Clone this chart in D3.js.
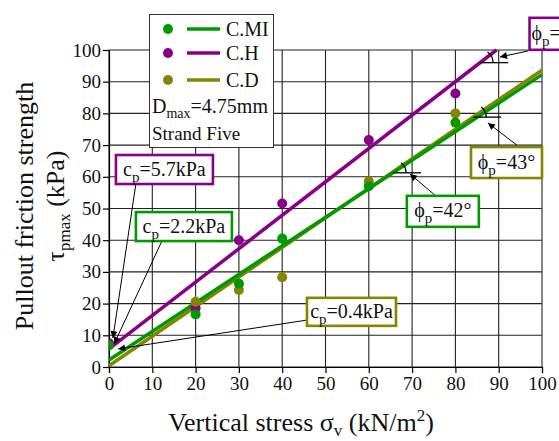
<!DOCTYPE html>
<html><head><meta charset="utf-8">
<script src="https://cdn.jsdelivr.net/npm/d3@7"></script>
</head><body style="margin:0;background:#fff"><svg id="c" width="559" height="441" style="display:block"></svg>
<script>
const xTicks = [0,10,20,30,40,50,60,70,80,90,100];
const yTicks = [0,10,20,30,40,50,60,70,80,90,100];
const seriesNames = ["C.MI","C.H","C.D"];
const seriesColors = ["#009a00","#880088","#858500"];
const stressMI = [0,20,30,40,60,80];
const tauMI = [6.8,16.6,26.3,40.5,57,77.1];
const stressH = [0,20,30,40,60,80];
const tauH = [7.5,18.5,40,51.6,71.6,86.3];
const stressD = [20,30,40,60,80];
const tauD = [20.6,24.3,28.3,58.6,80];
const cohesion = [2.2,5.7,0.4];
const phiDeg = [42,46.5,43];

const FONT = '"Liberation Serif", "Times New Roman", Times, serif';
const svg = d3.select("#c").style("font-family",FONT);
const x = d3.scaleLinear().domain([0,100]).range([109,542]);
const y = d3.scaleLinear().domain([0,100]).range([367,50]);

// grid
const g = svg.append("g");
g.selectAll(".vg").data(xTicks).join("line").attr("x1",d=>x(d)).attr("x2",d=>x(d)).attr("y1",y(0)).attr("y2",y(100)).attr("stroke","#222").attr("stroke-width",1.1);
g.selectAll(".hg").data(yTicks).join("line").attr("y1",d=>y(d)).attr("y2",d=>y(d)).attr("x1",x(0)).attr("x2",x(100)).attr("stroke","#222").attr("stroke-width",1.1);

// axes
const ax = svg.append("g").attr("transform",`translate(0,${y(0)})`).call(d3.axisBottom(x).tickValues(xTicks).tickSize(6).tickPadding(4));
const ay = svg.append("g").attr("transform",`translate(${x(0)},0)`).call(d3.axisLeft(y).tickValues(yTicks).tickSize(6).tickPadding(2));
[ax,ay].forEach(a=>{a.attr("font-family",null).style("font-family",FONT);a.select(".domain").attr("stroke","#000").attr("stroke-width",1.2);a.selectAll(".tick line").attr("stroke","#000").attr("stroke-width",1.2);a.selectAll(".tick text").style("font-family",FONT).style("font-size","19px").attr("fill","#111");});

// fit lines
const plot = svg.append("g");
svg.append("clipPath").attr("id","clip").append("rect").attr("x",x(0)).attr("y",y(100)).attr("width",x(100)-x(0)).attr("height",y(0)-y(100));
const fitLine = i => {
  const s = Math.tan(phiDeg[i]*Math.PI/180), c = cohesion[i];
  const xe = Math.min(100,(100-c)/s);
  return [[0,c],[xe,c+s*xe]];
};
const order = [2,0,1];
order.forEach(i=>{
  const pts = fitLine(i);
  plot.append("line").attr("x1",x(pts[0][0])).attr("y1",y(pts[0][1])).attr("x2",x(pts[1][0])).attr("y2",y(pts[1][1]))
    .attr("stroke",seriesColors[i]).attr("stroke-width",3.5);
});

// points
const pointSets = [[stressMI,tauMI],[stressH,tauH],[stressD,tauD]];
const ptG = svg.append("g").attr("clip-path","url(#clip)");
[1,2,0].forEach(i=>{
  const [xs,ys] = pointSets[i];
  ptG.selectAll(null).data(xs.map((v,k)=>[v,ys[k]])).join("circle")
    .attr("cx",d=>x(d[0])).attr("cy",d=>y(d[1])).attr("r",5).attr("fill",seriesColors[i]);
});

// angle markers
const markerX = [65.6,85.7,84.1];
const mk = svg.append("g");
[0,1,2].forEach(i=>{
  const s = Math.tan(phiDeg[i]*Math.PI/180), c = cohesion[i];
  const bx = x(markerX[i]), by = y(c+s*markerX[i]);
  mk.append("line").attr("x1",bx).attr("x2",bx+28).attr("y1",by).attr("y2",by).attr("stroke","#000").attr("stroke-width",1.3);
  const ang = Math.atan(s*(x(1)-x(0))/(y(0)-y(1)));
  const r = 13;
  mk.append("path").attr("d",`M${bx+r},${by} A${r},${r} 0 0 0 ${bx+r*Math.cos(ang)},${by-r*Math.sin(ang)}`).attr("fill","none").attr("stroke","#000").attr("stroke-width",1.3);
});

// annotations
svg.append("defs").append("marker").attr("id","ah").attr("viewBox","0 0 10 10").attr("refX",10).attr("refY",5)
  .attr("markerWidth",9).attr("markerHeight",7).attr("markerUnits","userSpaceOnUse").attr("orient","auto")
  .append("path").attr("d","M0,0 L10,5 L0,10 z").attr("fill","#000");
const annMain = ["c","c","c","ϕ","ϕ","ϕ"];
const annRest = ["=5.7kPa","=2.2kPa","=0.4kPa","=42°","=43°","=46.5°"];
const annSeries = [1,0,2,0,2,1];
const annCx = [12.8,17.3,56.0,77.1,91.8,105.9];
const annCy = [62.3,44.3,17.4,49.1,64.5,105.1];
const annW = [97,96,89,72,71,76];
const annH = [29,29,28,31,31,32];
const arrFrom = [[6.2,57.7],[12.2,39.7],[45.7,14.8],[75.8,53.6],[94.2,70.0],[96.8,99.7]];
const arrTo = [[0.9,9.1],[1.2,7.3],[2.1,5.7],[69.5,60.9],[87.5,77.0],[90.3,97.8]];
const an = svg.append("g");
annRest.forEach((r,i)=>{
  an.append("line").attr("x1",x(arrFrom[i][0])).attr("y1",y(arrFrom[i][1])).attr("x2",x(arrTo[i][0])).attr("y2",y(arrTo[i][1]))
    .attr("stroke","#000").attr("stroke-width",1).attr("marker-end","url(#ah)");
});
annRest.forEach((r,i)=>{
  const cx = x(annCx[i]), cy = y(annCy[i]);
  an.append("rect").attr("x",cx-annW[i]/2).attr("y",cy-annH[i]/2).attr("width",annW[i]).attr("height",annH[i])
    .attr("fill","#fff").attr("stroke",seriesColors[annSeries[i]]).attr("stroke-width",2.6);
  const t = an.append("text").attr("x",cx).attr("y",cy+6).attr("text-anchor","middle").style("font-size","20px").attr("fill","#111");
  t.append("tspan").text(annMain[i]);
  t.append("tspan").attr("dy",6).style("font-size","15px").text("p");
  t.append("tspan").attr("dy",-6).text(r);
});

// legend
const lg = svg.append("g");
lg.append("rect").attr("x",149.5).attr("y",14.5).attr("width",124).attr("height",133).attr("fill","#fff").attr("stroke","#333").attr("stroke-width",1);
const legY = [29,53,80];
seriesNames.forEach((n,i)=>{
  lg.append("circle").attr("cx",168).attr("cy",legY[i]).attr("r",5).attr("fill",seriesColors[i]);
  lg.append("line").attr("x1",187).attr("x2",220).attr("y1",legY[i]).attr("y2",legY[i]).attr("stroke",seriesColors[i]).attr("stroke-width",3.5);
  lg.append("text").attr("x",226).attr("y",legY[i]+7).style("font-size","20px").attr("fill","#111").text(n);
});
const dm = lg.append("text").attr("x",152).attr("y",113).style("font-size","20px").attr("fill","#111");
dm.append("tspan").text("D");
dm.append("tspan").attr("dy",5).style("font-size","14px").text("max");
dm.append("tspan").attr("dy",-5).text("=4.75mm");
lg.append("text").attr("x",152).attr("y",140).style("font-size","19px").attr("fill","#111").text("Strand Five");

// axis titles
const xt = svg.append("text").attr("x",301).attr("y",431).attr("text-anchor","middle").style("font-size","26px").attr("fill","#111");
xt.append("tspan").text("Vertical stress σ");
xt.append("tspan").attr("dy",5).style("font-size","17px").text("v");
xt.append("tspan").attr("dy",-5).text(" (kN/m");
xt.append("tspan").attr("dy",-10).style("font-size","17px").text("2");
xt.append("tspan").attr("dy",10).text(")");

const yt = svg.append("g").attr("transform","translate(33,206) rotate(-90)");
yt.append("text").attr("text-anchor","middle").style("font-size","26px").attr("fill","#111").text("Pullout friction strength");
const yt2 = yt.append("text").attr("y",31).attr("text-anchor","middle").style("font-size","26px").attr("fill","#111");
yt2.append("tspan").text("τ");
yt2.append("tspan").attr("dy",6).style("font-size","17px").text("pmax");
yt2.append("tspan").attr("dy",-6).text(" (kPa)");
</script></body></html>
